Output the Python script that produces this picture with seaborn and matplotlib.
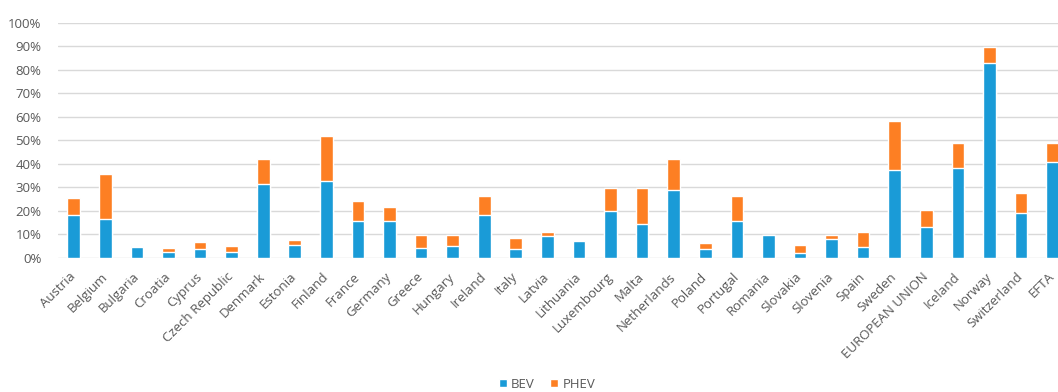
import matplotlib
matplotlib.use("Agg")
import matplotlib.pyplot as plt
from matplotlib.patches import Patch
from matplotlib.ticker import PercentFormatter, MultipleLocator
import seaborn as sns
import pandas as pd

countries = [
    "Austria", "Belgium", "Bulgaria", "Croatia", "Cyprus", "Czech Republic",
    "Denmark", "Estonia", "Finland", "France", "Germany", "Greece", "Hungary",
    "Ireland", "Italy", "Latvia", "Lithuania", "Luxembourg", "Malta",
    "Netherlands", "Poland", "Portugal", "Romania", "Slovakia", "Slovenia",
    "Spain", "Sweden", "EUROPEAN UNION", "Iceland", "Norway", "Switzerland",
    "EFTA",
]
bev = [18.3, 16.7, 4.8, 2.7, 3.7, 2.7, 31.3, 5.4, 32.9, 15.7, 15.7, 4.4, 5.0,
       18.4, 3.8, 9.2, 7.1, 20.0, 14.6, 29.0, 3.8, 15.7, 9.8, 2.1, 8.2, 4.8,
       37.3, 13.0, 38.4, 83.0, 19.0, 40.9]
phev = [7.1, 19.0, 0.3, 1.7, 3.0, 2.3, 10.8, 2.2, 18.9, 8.7, 6.0, 5.4, 4.8,
        8.1, 4.8, 1.7, 0.0, 9.6, 15.0, 13.1, 2.6, 10.8, 0.0, 3.3, 1.6, 6.1,
        20.8, 7.5, 10.6, 6.9, 8.6, 8.1]

BLUE = "#1a9bd7"
ORANGE = "#fd7f23"
GREY = "#595959"

df = pd.DataFrame({"country": countries, "BEV": bev, "PHEV": phev})
df["total"] = df["BEV"] + df["PHEV"]

sns.set_theme(style="white")
plt.rcParams["font.family"] = ["Open Sans", "DejaVu Sans"]

fig = plt.figure(figsize=(10.58, 3.92), dpi=100)
ax = fig.add_axes([0.0548, 0.342, 0.955, 0.5995])

# stacked bars: full height in orange, BEV share drawn over it in blue
sns.barplot(data=df, x="country", y="total", color=ORANGE, width=0.4,
            saturation=1, ax=ax, zorder=3)
sns.barplot(data=df, x="country", y="BEV", color=BLUE, width=0.4,
            saturation=1, ax=ax, zorder=4)

ax.set_ylim(0, 100)
ax.set_xlim(-0.5, len(countries) - 0.5)
ax.yaxis.set_major_locator(MultipleLocator(10))
ax.yaxis.set_major_formatter(PercentFormatter(decimals=0))
ax.grid(axis="y", color="#d9d9d9", linewidth=1.0, zorder=0)
ax.set_axisbelow(True)
for s in ax.spines.values():
    s.set_visible(False)
ax.set_xlabel("")
ax.set_ylabel("")
ax.tick_params(axis="both", length=0, colors=GREY)
ax.tick_params(axis="y", pad=12, labelsize=9.5)
ax.tick_params(axis="x", pad=12, labelsize=9.5)
plt.setp(ax.get_xticklabels(), rotation=45, ha="right", va="center",
         rotation_mode="anchor", color=GREY)

handles = [Patch(facecolor=BLUE, label="BEV"),
           Patch(facecolor=ORANGE, label="PHEV")]
fig.legend(handles=handles, loc="center", bbox_to_anchor=(0.517, 0.02),
           ncol=2, frameon=False, handlelength=0.6, handleheight=0.6,
           handletextpad=0.3, columnspacing=1.2, fontsize=9.5,
           labelcolor=GREY)

fig.savefig("out.png", dpi=100, facecolor="white")
